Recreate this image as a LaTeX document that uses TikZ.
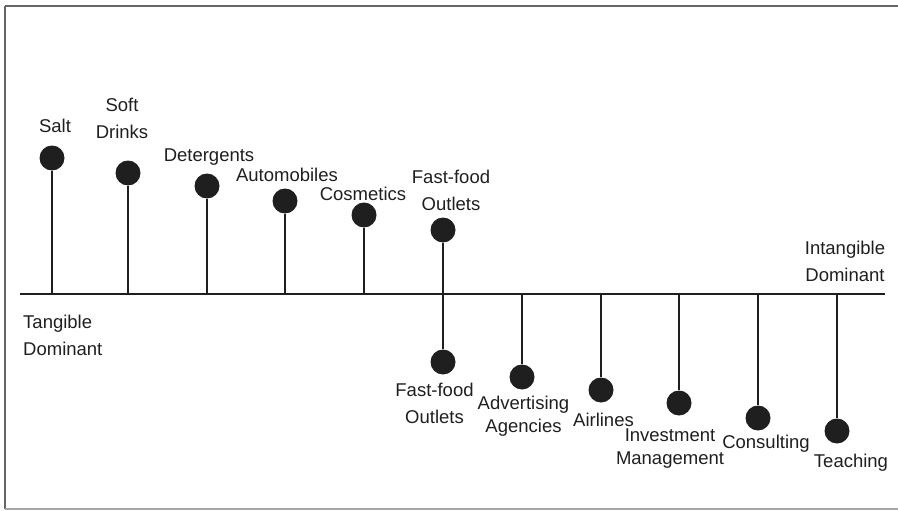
\documentclass[tikz,border=0pt]{standalone}
\usepackage{fontspec}
\setmainfont{Liberation Sans}
\begin{document}
\begin{tikzpicture}[
    x=1pt, y=-1pt,
    dot/.style={circle, fill=black!88, inner sep=0pt, minimum size=25pt},
    lbl/.style={inner sep=0pt, align=center, text=black!88,
                font=\fontsize{18.5}{27}\selectfont},
    tight/.style={lbl, font=\fontsize{18.5}{23}\selectfont},
    stem/.style={line width=1.5pt, black!88},
    axis/.style={line width=2pt, black!88}
]
\useasboundingbox (0,0) rectangle (898,511);
\draw[line width=1.2pt, black!60] (5,6) -- (940,6);
\draw[line width=1.2pt, black!60] (5,6) -- (5,509);
\draw[line width=1.2pt, black!35] (5,509) -- (940,509);

% axis
\coordinate (axL) at (20,294);
\coordinate (axR) at (885,294);
\draw[axis] (axL) -- (axR);
\node[lbl, align=left, anchor=west] (tang) at (23,335.5) {Tangible\\Dominant};
\node[lbl] (intang) at (845,261.5) {Intangible\\Dominant};

% tangible side
\coordinate (t1) at (52,294);
\coordinate (t2) at (128,294);
\coordinate (t3) at (207,294);
\coordinate (t4) at (285,294);
\coordinate (t5) at (364,294);
\coordinate (t6) at (443,294);
\node[dot] (salt) at (52,158) {};
\node[dot] (soft) at (128,173) {};
\node[dot] (deter) at (207,186) {};
\node[dot] (auto) at (285,201) {};
\node[dot] (cosm) at (364,215) {};
\node[dot] (fastU) at (443,230) {};
\node[lbl] (saltL) at (55,126) {Salt};
\node[lbl] (softL) at (122,118.5) {Soft\\Drinks};
\node[lbl] (deterL) at (209,157) {Detergents};
\node[lbl] (autoL) at (287,175) {Automobiles};
\node[lbl] (cosmL) at (363,194) {Cosmetics};
\node[lbl] (fastUL) at (451,190.5) {Fast-food\\Outlets};
\draw[stem] (salt) -- (t1);
\draw[stem] (soft) -- (t2);
\draw[stem] (deter) -- (t3);
\draw[stem] (auto) -- (t4);
\draw[stem] (cosm) -- (t5);
\draw[stem] (fastU) -- (t6);

% intangible side
\coordinate (b1) at (522,294);
\coordinate (b2) at (601,294);
\coordinate (b3) at (679,294);
\coordinate (b4) at (758,294);
\coordinate (b5) at (837,294);
\node[dot] (fastD) at (443,362) {};
\node[dot] (adv) at (522,377) {};
\node[dot] (air) at (601,390) {};
\node[dot] (inv) at (679,403) {};
\node[dot] (cons) at (758,418) {};
\node[dot] (teach) at (837,431) {};
\node[lbl] (fastDL) at (434.5,403.5) {Fast-food\\Outlets};
\node[tight] (advL) at (523.5,416.5) {Advertising\\Agencies};
\node[lbl] (airL) at (603.5,420) {Airlines};
\node[tight] (invL) at (670,449) {Investment\\Management};
\node[lbl] (consL) at (766,444) {Consulting};
\node[lbl] (teachL) at (851,463) {Teaching};
\draw[stem] (t6) -- (fastD);
\draw[stem] (b1) -- (adv);
\draw[stem] (b2) -- (air);
\draw[stem] (b3) -- (inv);
\draw[stem] (b4) -- (cons);
\draw[stem] (b5) -- (teach);
\end{tikzpicture}
\end{document}
